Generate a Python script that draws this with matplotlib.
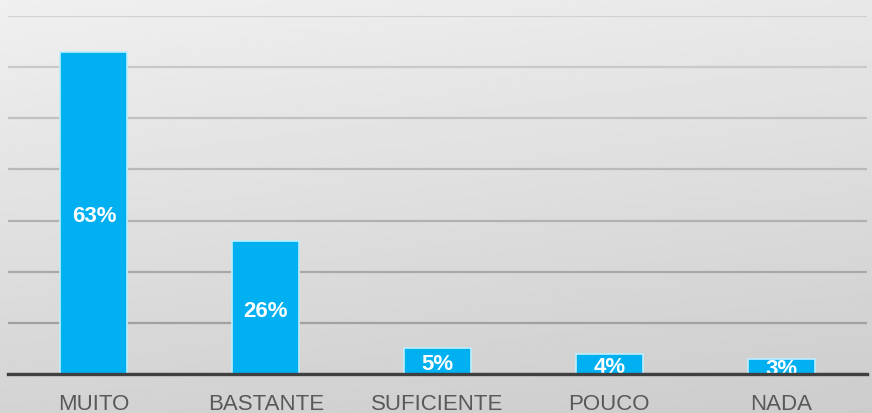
import numpy as np
import matplotlib.pyplot as plt

categories = ['MUITO', 'BASTANTE', 'SUFICIENTE', 'POUCO', 'NADA']
values = [63, 26, 5, 4, 3]
labels = ['63%', '26%', '5%', '4%', '3%']

plt.rcParams['font.family'] = ['Liberation Sans', 'DejaVu Sans']

fig = plt.figure(figsize=(8.72, 4.14), dpi=100)

# gradient background
bg = fig.add_axes([0, 0, 1, 1], zorder=0)
yy, xx = np.mgrid[0:1:200j, 0:1:400j]
shade = 0.94 - 0.11 * yy - 0.03 * xx
bg.imshow(shade, cmap='gray', vmin=0, vmax=1, aspect='auto', extent=[0, 1, 0, 1], origin='upper')
bg.axis('off')

ax = fig.add_axes([8/872, 39/414, 859/872, 358/414], zorder=1)
ax.patch.set_alpha(0)
x = np.arange(len(categories))
ax.bar(x, values, width=0.39, color='#00B0F0', edgecolor='#bfeeff', linewidth=1.2, zorder=3)
for xi, v, lab in zip(x, values, labels):
    ax.text(xi, v / 2, lab, ha='center', va='center_baseline', color='white',
            fontsize=16, fontweight='bold', zorder=4)

ax.set_xlim(-0.5, len(categories) - 0.5)
ax.set_ylim(0, 70)
ax.set_yticks(range(0, 71, 10))
ax.set_yticklabels([])
ax.tick_params(axis='y', length=0)
ax.tick_params(axis='x', length=0, pad=14, labelsize=16, labelcolor='#595959')
ax.set_xticks(x)
ax.set_xticklabels(categories)
ax.grid(axis='y', linewidth=1.6, zorder=0)
glines = ax.get_ygridlines()
greys = np.linspace(0.82, 0.6, len(glines))[::-1]
for g, c in zip(glines, greys):
    g.set_color(str(c))
for s in ['top', 'left', 'right']:
    ax.spines[s].set_visible(False)
ax.spines['bottom'].set_color('#404040')
ax.spines['bottom'].set_linewidth(2.4)
ax.spines['bottom'].set_zorder(5)

fig.savefig('out.png', dpi=100)
